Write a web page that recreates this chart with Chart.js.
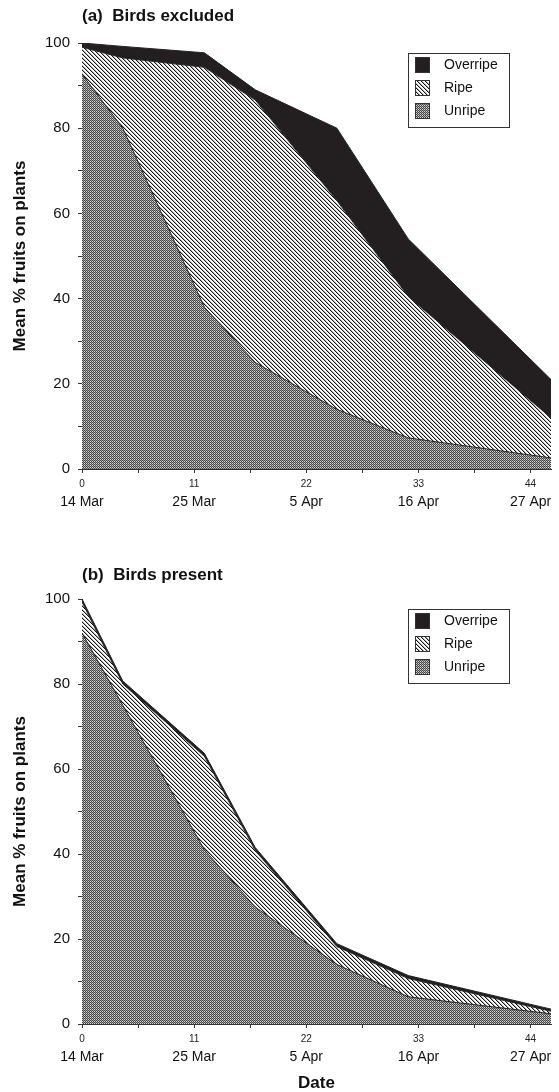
<!DOCTYPE html>
<html>
<head>
<meta charset="utf-8">
<script src="https://cdn.jsdelivr.net/npm/chart.js@4/dist/chart.umd.min.js"></script>
<style>
  html, body { margin: 0; padding: 0; background: #fff; }
  #wrap { position: relative; width: 559px; height: 1092px; }
  canvas { position: absolute; left: 0; display: block; }
</style>
</head>
<body>
<div id="wrap">
  <canvas id="chartA" width="559" height="540" style="top:0"></canvas>
  <canvas id="chartB" width="559" height="552" style="top:540px"></canvas>
</div>
<script>
// days after 14 Mar when fruits were counted
const days = [0, 4, 12, 17, 25, 32, 46];

// (a) birds excluded, mean % fruits on plants
const excludedUnripe = [92.7, 80, 38, 25, 14, 7.3, 2.6];
const excludedRipe = [6.3, 16.5, 56.3, 61.6, 49, 33.2, 9.4];
const excludedOverripe = [1, 2.7, 3.4, 2.4, 17, 13.5, 9];

// (b) birds present
const presentUnripe = [92, 75, 41, 27.5, 14, 6.4, 2.4];
const presentRipe = [7.3, 5, 22, 13.3, 4.2, 4.3, 0.6];
const presentOverripe = [0.7, 0.7, 0.7, 0.7, 0.7, 0.7, 0.5];

const seriesNames = ['Unripe', 'Ripe', 'Overripe'];
const tickDays = [0, 11, 22, 33, 44];
const tickDates = ['14 Mar', '25 Mar', '5 Apr', '16 Apr', '27 Apr'];

const FONT = "'Liberation Sans', Arial, sans-serif";
Chart.defaults.font.family = FONT;
Chart.defaults.color = '#111';

// small pixel patterns like the printed figure
function makePattern(size, paint) {
  var c = document.createElement('canvas');
  c.width = c.height = size;
  var g = c.getContext('2d');
  var img = g.createImageData(size, size);
  for (var y = 0; y < size; y++) {
    for (var x = 0; x < size; x++) {
      var v = paint(x, y);
      var k = (y * size + x) * 4;
      img.data[k] = img.data[k + 1] = img.data[k + 2] = v;
      img.data[k + 3] = 255;
    }
  }
  g.putImageData(img, 0, 0);
  return g.createPattern(c, 'repeat');
}

// unripe: fine grey checker
var unripeFill = makePattern(2, function (x, y) {
  if (x === y) return 0x48;
  return x === 0 ? 0xd2 : 0x9a;
});
// ripe: thin "\" hatching on white
var ripeFill = makePattern(4, function (x, y) {
  var d = ((x - y) % 4 + 4) % 4;
  return d === 0 ? 0x18 : (d === 1 ? 0xb0 : 0xff);
});
var overripeFill = '#231f20';
var fills = [unripeFill, ripeFill, overripeFill];

function points(values) {
  return values.map(function (v, i) { return { x: days[i], y: v }; });
}

// legend box drawn in the upper right of the plot
var legendBox = {
  id: 'legendBox',
  afterDraw: function (chart) {
    var ctx = chart.ctx;
    var area = chart.chartArea;
    var left = area.right - 143, top = area.top + 10;
    ctx.save();
    ctx.fillStyle = '#fff';
    ctx.fillRect(left, top, 101, 74);
    ctx.strokeStyle = '#333';
    ctx.lineWidth = 1;
    ctx.strokeRect(left + 0.5, top + 0.5, 101, 74);
    var ds = chart.data.datasets.slice().reverse();
    ctx.font = '14px ' + FONT;
    ctx.textBaseline = 'middle';
    ds.forEach(function (d, i) {
      var sy = top + 4 + i * 23;
      ctx.fillStyle = d.backgroundColor;
      ctx.fillRect(left + 7, sy, 15, 16);
      ctx.strokeStyle = '#333';
      ctx.strokeRect(left + 7.5, sy + 0.5, 14, 15);
      ctx.fillStyle = '#111';
      ctx.fillText(d.label, left + 36, sy + 8.5);
    });
    ctx.restore();
  }
};

function makeChart(canvasId, title, series, opts) {
  var datasets = series.map(function (vals, i) {
    return {
      label: seriesNames[i],
      data: points(vals),
      backgroundColor: fills[i],
      borderColor: '#222',
      borderWidth: 1,
      pointRadius: 0,
      tension: 0,
      fill: i === 0 ? 'origin' : '-1'
    };
  });

  return new Chart(document.getElementById(canvasId), {
    type: 'line',
    data: { datasets: datasets },
    plugins: [legendBox],
    options: {
      responsive: false,
      animation: false,
      layout: { padding: { left: 0, right: 8, top: 0, bottom: opts.padBottom } },
      plugins: {
        legend: { display: false },
        tooltip: { enabled: false },
        title: {
          display: true,
          text: title,
          align: 'start',
          fullSize: false,
          color: '#111',
          font: { size: 17, weight: 'bold' },
          padding: { top: opts.titleTop, bottom: opts.titleBottom }
        }
      },
      scales: {
        x: {
          type: 'linear',
          min: 0,
          max: 46,
          afterBuildTicks: function (scale) {
            var t = [];
            tickDays.forEach(function (d) { t.push({ value: d }); t.push({ value: d + 5.5 }); });
            scale.ticks = t.filter(function (k) { return k.value <= 46; });
          },
          afterFit: function (scale) { scale.height = 24; },
          ticks: {
            autoSkip: false,
            maxRotation: 0,
            padding: 5,
            font: { size: 10 },
            color: '#222',
            callback: function (v) { return tickDays.indexOf(v) >= 0 ? String(v) : ''; }
          },
          grid: { display: true, drawOnChartArea: false, drawTicks: true, tickLength: 4, color: '#333' },
          border: { display: true, color: '#333', width: 1 }
        },
        x2: {
          type: 'linear',
          position: 'bottom',
          min: 0,
          max: 46,
          afterBuildTicks: function (scale) {
            scale.ticks = tickDays.map(function (d) { return { value: d }; });
          },
          afterFit: function (scale) { scale.height = opts.x2Height; },
          ticks: {
            autoSkip: false,
            maxRotation: 0,
            padding: 1,
            font: { size: 14 },
            color: '#111',
            callback: function (v) { return tickDates[tickDays.indexOf(v)]; }
          },
          grid: { display: false, drawTicks: false, tickLength: 0 },
          border: { display: false },
          title: {
            display: opts.showDate,
            text: 'Date',
            color: '#111',
            font: { size: 17, weight: 'bold', lineHeight: 1 },
            padding: { top: 0, bottom: 0 }
          }
        },
        y: {
          stacked: true,
          min: 0,
          max: 100,
          afterFit: function (scale) { scale.width = 82; },
          ticks: {
            stepSize: 10,
            padding: 8,
            font: { size: 15 },
            color: '#111',
            callback: function (v) { return v % 20 === 0 ? String(v) : ''; }
          },
          grid: { display: true, drawOnChartArea: false, drawTicks: true, tickLength: 4, color: '#333' },
          border: { display: true, color: '#333', width: 1 },
          title: {
            display: true,
            text: 'Mean % fruits on plants',
            color: '#111',
            font: { size: 17, weight: 'bold' },
            padding: { top: 10, bottom: 0 }
          }
        }
      }
    }
  });
}

makeChart('chartA', '(a)  Birds excluded',
  [excludedUnripe, excludedRipe, excludedOverripe],
  { titleTop: 6, titleBottom: 16.6, padBottom: 17, x2Height: 30, showDate: false });

makeChart('chartB', '(b)  Birds present',
  [presentUnripe, presentRipe, presentOverripe],
  { titleTop: 25, titleBottom: 13.6, padBottom: 0, x2Height: 44, showDate: true });
</script>
</body>
</html>
